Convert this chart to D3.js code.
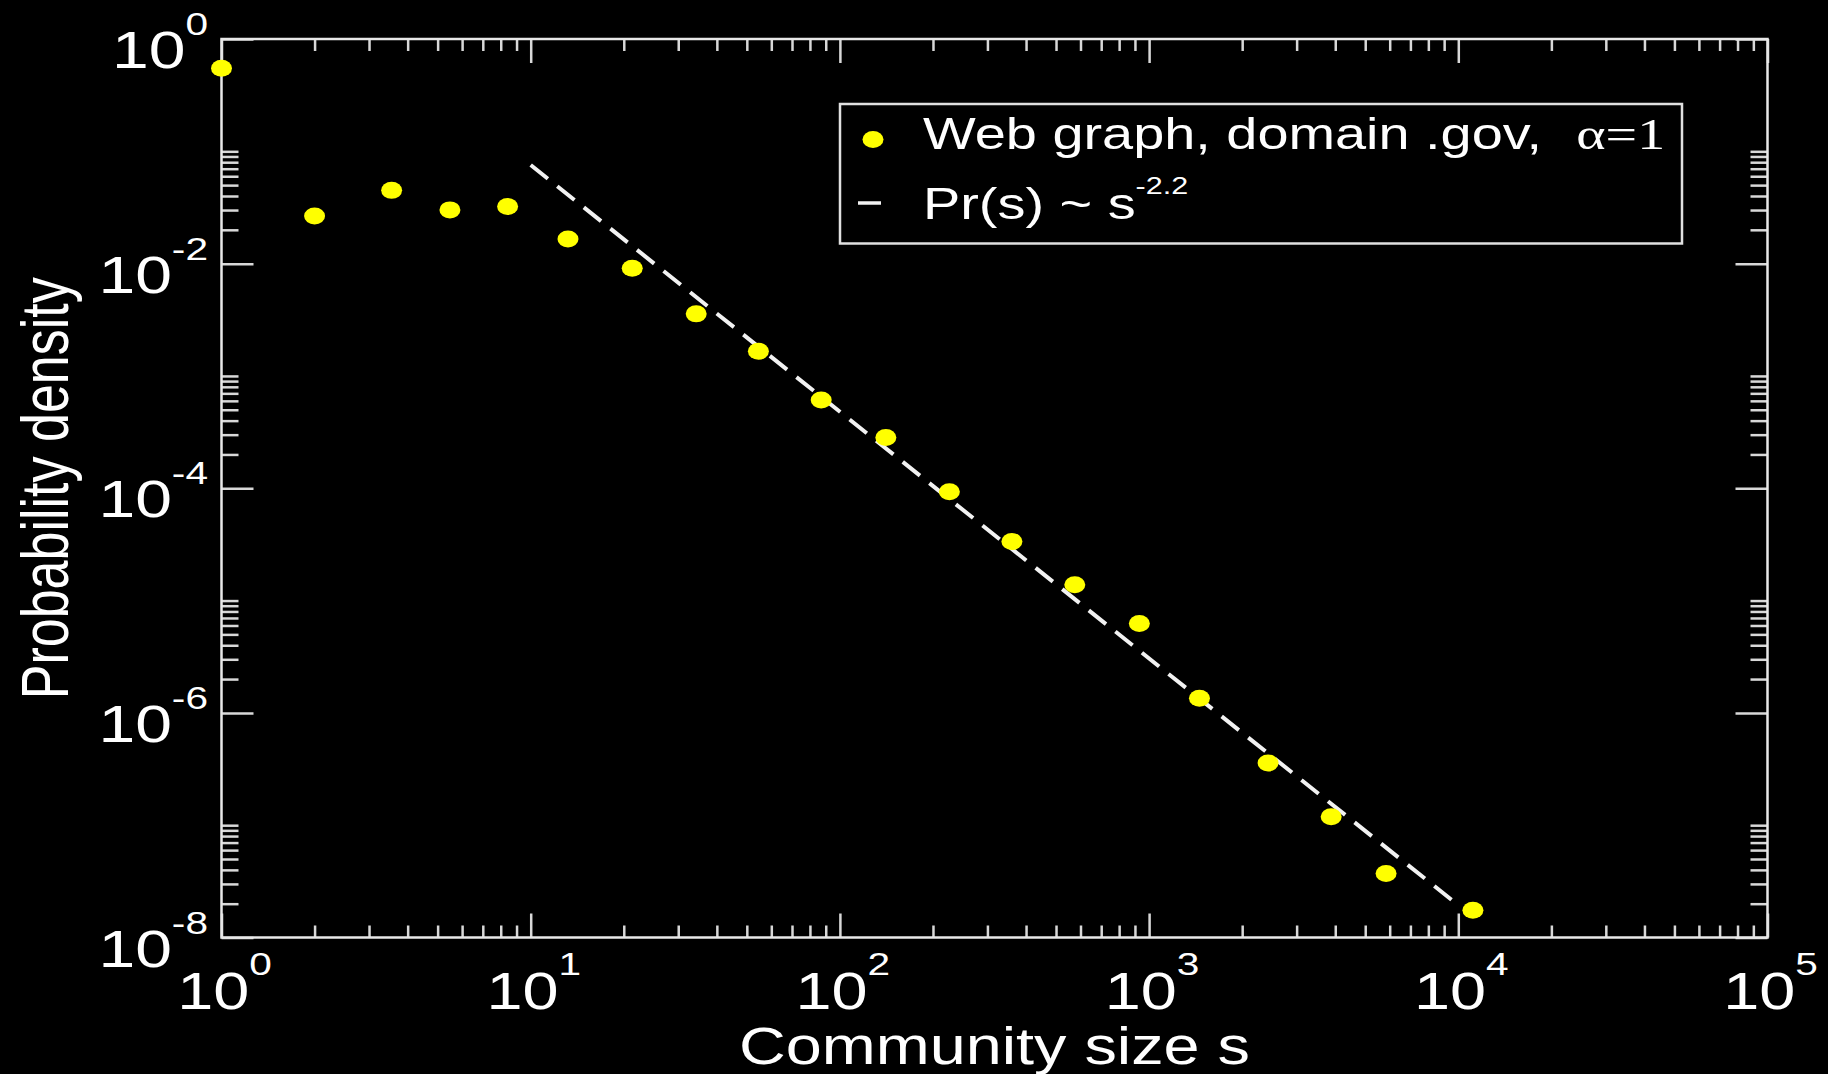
<!DOCTYPE html>
<html>
<head>
<meta charset="utf-8">
<script src="https://cdn.jsdelivr.net/npm/d3@7"></script>
<style>
  html, body { margin: 0; padding: 0; background: #000; }
  svg { display: block; }
  text { font-family: "Liberation Sans", Arial, sans-serif; fill: #fff; }
</style>
</head>
<body>
<svg id="chart"></svg>
<script>
// community sizes and their probability density
const sizes   = [1, 2.0, 3.55, 5.48, 8.42, 13.2, 21.3, 34.3, 54.5, 87, 140.8, 226, 360, 575, 930, 1455, 2425, 3880, 5840, 11150];
const density = [0.55, 0.0266, 0.0449, 0.0301, 0.0322, 0.0166, 0.0091, 0.00357, 0.00166, 6.1e-4, 2.83e-4, 9.3e-5, 3.36e-5, 1.38e-5, 6.24e-6, 1.35e-6, 3.58e-7, 1.19e-7, 3.72e-8, 1.75e-8];

// power-law guide Pr(s) ~ s^-2.2, end points
const fitSizes   = [10, 10000];
const fitDensity = [0.0755, 1.94e-8];

// ticks
const xMajorTicks = [1, 10, 100, 1000, 10000, 100000];
const xTickExps   = ['0', '1', '2', '3', '4', '5'];
const yMajorTicks = [1, 1e-2, 1e-4, 1e-6, 1e-8];
const yTickExps   = ['0', '-2', '-4', '-6', '-8'];
const xMinorMult  = [2, 3, 4, 5, 6, 7, 8, 9];
const yMinorMult  = [2, 3, 4, 5, 6, 7, 8, 9, 10];

const legendLabels = ['Web graph, domain .gov,', 'Pr(s) ~ s'];

const W = 1828, H = 1074;
const frame = {left: 221.5, right: 1767.5, top: 39, bottom: 937.5};
const SX = 1.27; // the original picture is stretched sideways

const svg = d3.select('#chart').attr('width', W).attr('height', H);
svg.append('rect').attr('width', W).attr('height', H).attr('fill', '#000');

const x = d3.scaleLog().domain([1, 1e5]).range([frame.left, frame.right]);
const y = d3.scaleLog().domain([1e-8, 1]).range([frame.bottom, frame.top]);

const xMinor = [];
xMajorTicks.slice(0, -1).forEach(m => xMinorMult.forEach(k => xMinor.push(m * k)));
const yMinor = [];
yMajorTicks.slice(1).forEach(m => yMinorMult.forEach(k => yMinor.push(m * k)));

function drawAxis(axis, tx, ty){
    const g = svg.append('g')
        .attr('transform', `translate(${tx},${ty})`)
        .call(axis);
    g.select('.domain').remove();
    g.selectAll('.tick line').attr('stroke', '#d8d8d8').attr('stroke-width', 2.5);
    g.selectAll('.tick text').remove();
}

// major + minor ticks, all pointing inwards
drawAxis(d3.axisBottom(x).tickValues(xMajorTicks).tickSize(-24).tickFormat(''), 0, frame.bottom);
drawAxis(d3.axisBottom(x).tickValues(xMinor).tickSize(-12).tickFormat(''), 0, frame.bottom);
drawAxis(d3.axisTop(x).tickValues(xMajorTicks).tickSize(-24).tickFormat(''), 0, frame.top);
drawAxis(d3.axisTop(x).tickValues(xMinor).tickSize(-12).tickFormat(''), 0, frame.top);
drawAxis(d3.axisLeft(y).tickValues(yMajorTicks).tickSize(-32).tickFormat(''), frame.left, 0);
drawAxis(d3.axisLeft(y).tickValues(yMinor).tickSize(-17).tickFormat(''), frame.left, 0);
drawAxis(d3.axisRight(y).tickValues(yMajorTicks).tickSize(-32).tickFormat(''), frame.right, 0);
drawAxis(d3.axisRight(y).tickValues(yMinor).tickSize(-17).tickFormat(''), frame.right, 0);

// frame
svg.append('rect')
    .attr('x', frame.left).attr('y', frame.top)
    .attr('width', frame.right - frame.left).attr('height', frame.bottom - frame.top)
    .attr('fill', 'none').attr('stroke', '#e8e8e8').attr('stroke-width', 2.5);

// tick labels
xMajorTicks.forEach((v, i) => {
    const t = svg.append('text')
        .attr('transform', `translate(${x(v) + 3},1009) scale(${SX},1)`)
        .attr('text-anchor', 'middle')
        .attr('font-size', 51);
    t.append('tspan').text('10');
    t.append('tspan').attr('font-size', 32).attr('dy', -34).text(xTickExps[i]);
});

yMajorTicks.forEach((v, i) => {
    const t = svg.append('text')
        .attr('transform', `translate(208,${y(v) + 29}) scale(${SX},1)`)
        .attr('text-anchor', 'end')
        .attr('font-size', 52);
    t.append('tspan').text('10');
    t.append('tspan').attr('font-size', 32).attr('dy', -33).text(yTickExps[i]);
});

// axis titles
svg.append('text')
    .attr('transform', `translate(${(frame.left + frame.right) / 2},1064) scale(${SX},1)`)
    .attr('text-anchor', 'middle')
    .attr('font-size', 51)
    .text('Community size s');

svg.append('text')
    .attr('transform', `translate(68,${(frame.top + frame.bottom) / 2}) scale(${SX},1) rotate(-90)`)
    .attr('text-anchor', 'middle')
    .attr('font-size', 52)
    .text('Probability density');

// fitted power law
const fit = fitSizes.map((s, i) => ({s: s, p: fitDensity[i]}));
svg.append('path')
    .attr('d', d3.line().x(d => x(d.s)).y(d => y(d.p))(fit))
    .attr('fill', 'none')
    .attr('stroke', '#f2f2f2')
    .attr('stroke-width', 4)
    .attr('stroke-dasharray', '22,12');

// data points
const points = sizes.map((s, i) => ({s: s, p: density[i]}));
svg.append('g').selectAll('ellipse')
    .data(points)
    .join('ellipse')
    .attr('cx', d => x(d.s))
    .attr('cy', d => y(d.p))
    .attr('rx', 10.5)
    .attr('ry', 8.5)
    .attr('fill', '#ffff00');

// legend
const legend = svg.append('g');
legend.append('rect')
    .attr('x', 840).attr('y', 104)
    .attr('width', 842).attr('height', 139.5)
    .attr('fill', '#000').attr('stroke', '#e0e0e0').attr('stroke-width', 2.5);

legend.append('ellipse')
    .attr('cx', 873).attr('cy', 139.5)
    .attr('rx', 10.5).attr('ry', 8.5)
    .attr('fill', '#ffff00');

const row1 = legend.append('text')
    .attr('transform', `translate(923,149) scale(${SX},1)`)
    .attr('font-size', 44);
row1.append('tspan').text(legendLabels[0]);
row1.append('tspan')
    .attr('dx', 27)
    .style('font-family', '"Liberation Serif", "Times New Roman", serif')
    .text('\u03b1=1');

legend.append('line')
    .attr('x1', 858).attr('x2', 881)
    .attr('y1', 203).attr('y2', 203)
    .attr('stroke', '#f2f2f2').attr('stroke-width', 3.5);

const row2 = legend.append('text')
    .attr('transform', `translate(923,219) scale(${SX},1)`)
    .attr('font-size', 44);
row2.append('tspan').text(legendLabels[1]);
row2.append('tspan').attr('font-size', 24).attr('dy', -25).text('-2.2');
</script>
</body>
</html>
